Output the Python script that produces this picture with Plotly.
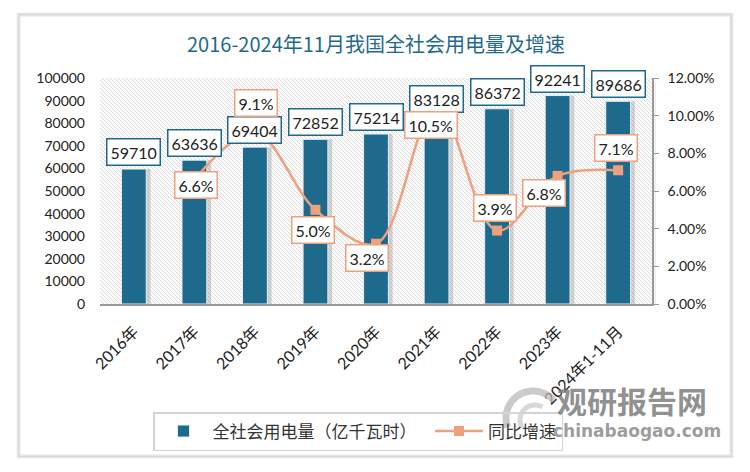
import base64
import math
import plotly.graph_objects as go

# ---- data ----
categories = ["2016年", "2017年", "2018年", "2019年", "2020年", "2021年", "2022年", "2023年", "2024年1-11月"]
consumption = [59710, 63636, 69404, 72852, 75214, 83128, 86372, 92241, 89686]
growth = [None, 0.066, 0.091, 0.050, 0.032, 0.105, 0.039, 0.068, 0.071]
growth_text = ["", "6.6%", "9.1%", "5.0%", "3.2%", "10.5%", "3.9%", "6.8%", "7.1%"]
left_ticks = [0, 10000, 20000, 30000, 40000, 50000, 60000, 70000, 80000, 90000, 100000]
left_tick_text = ["0", "10000", "20000", "30000", "40000", "50000", "60000", "70000", "80000", "90000", "100000"]
right_ticks = [0, 0.02, 0.04, 0.06, 0.08, 0.10, 0.12]

# label offsets (pixels) for growth labels
growth_offsets = [(0, 0), (2, -5), (1, 30), (-2, -20), (-9, -14), (-6, -19), (-2, 23), (-14, -17), (-2, 22)]

BLUE = "#1E6A8D"
SALMON = "#EFA07C"
FONT = "Lato, 'Noto Sans CJK SC', sans-serif"

W, H = 750, 472
ML, MR, MT, MB = 100, 98, 78, 168
PW, PH = W - ML - MR, H - MT - MB


def px_x(px):
    return (px - ML) / PW


def px_y(py):
    return (H - MB - py) / PH


# hatched plot-area background as inline svg
lines = []
step = 4
for k in range(-PH, PW + PH, step):
    lines.append(f'<line x1="{k}" y1="0" x2="{k + PH}" y2="{PH}" stroke="#DADADA" stroke-width="1"/>')
svg = (f'<svg xmlns="http://www.w3.org/2000/svg" width="{PW}" height="{PH}" viewBox="0 0 {PW} {PH}">'
       f'<rect width="{PW}" height="{PH}" fill="#FCFCFC"/>' + "".join(lines) + '</svg>')
svg_uri = "data:image/svg+xml;base64," + base64.b64encode(svg.encode()).decode()

fig = go.Figure()

# bar shadows
fig.add_trace(go.Bar(
    x=categories, y=consumption, width=0.41, offset=-0.205 + 0.07,
    marker=dict(color="rgba(120,120,120,0.30)", line=dict(width=0)),
    showlegend=False, hoverinfo="skip", yaxis="y"))

fig.add_trace(go.Bar(
    x=categories, y=consumption, width=0.41, offset=-0.205,
    name="全社会用电量（亿千瓦时）\u3000",
    marker=dict(color=BLUE, line=dict(color="#E8EEF2", width=1)),
    yaxis="y"))

fig.add_trace(go.Scatter(
    x=categories, y=growth, name="同比增速", yaxis="y2",
    mode="lines+markers",
    line=dict(color=SALMON, width=2.5, shape="spline", smoothing=1.0),
    marker=dict(symbol="square", size=10, color=SALMON),
    connectgaps=False))

annotations = []
for c, v in zip(categories, consumption):
    annotations.append(dict(
        x=c, y=v, xref="x", yref="y", text=str(v), showarrow=False,
        yshift=17, yanchor="middle",
        font=dict(size=16, color="#222222", family=FONT),
        bgcolor="white", bordercolor=BLUE, borderwidth=1.5, borderpad=3))

for c, g, t, (dx, dy) in zip(categories, growth, growth_text, growth_offsets):
    if g is None:
        continue
    annotations.append(dict(
        x=c, y=g, xref="x", yref="y2", text=t, showarrow=False,
        xshift=dx, yshift=dy, yanchor="middle",
        font=dict(size=16, color="#222222", family=FONT),
        bgcolor="white", bordercolor=SALMON, borderwidth=1.5, borderpad=3))

# watermark
annotations.append(dict(
    x=px_x(632), y=px_y(400), xref="paper", yref="paper", text="<b>观研报告网</b>",
    xanchor="center", yanchor="middle",
    showarrow=False, font=dict(size=30, color="rgba(125,125,125,0.85)", family="'Noto Sans CJK SC', sans-serif")))
annotations.append(dict(
    x=px_x(637), y=px_y(431), xref="paper", yref="paper", text="<b>chinabaogao.com</b>",
    xanchor="center", yanchor="middle",
    showarrow=False, font=dict(size=17, color="rgba(140,140,140,0.85)", family="'DejaVu Sans', sans-serif")))

shapes = []
# card shadow
for i, a in enumerate([0.10, 0.06, 0.03]):
    d = i + 1
    shapes.append(dict(type="rect", xref="paper", yref="paper",
                       x0=px_x(20 - d), x1=px_x(730 + d), y0=px_y(455 + d), y1=px_y(16 - d),
                       line=dict(color=f"rgba(0,0,0,{a})", width=2), fillcolor="rgba(0,0,0,0)", layer="below"))
shapes.append(dict(type="rect", xref="paper", yref="paper",
                   x0=px_x(20), x1=px_x(730), y0=px_y(455), y1=px_y(16),
                   line=dict(color="#E4E4E4", width=1), fillcolor="rgba(0,0,0,0)", layer="below"))
# plot area drop shadow (right edge)
shapes.append(dict(type="rect", xref="paper", yref="paper",
                   x0=1.0, x1=px_x(ML + PW + 4), y0=0, y1=px_y(MT + 3),
                   line=dict(width=0), fillcolor="rgba(0,0,0,0.06)", layer="below"))


# watermark logo (swirl arcs)
def arc_path(cx, cy, r, a0, a1, n=24):
    pts = []
    for i in range(n + 1):
        a = math.radians(a0 + (a1 - a0) * i / n)
        pts.append((px_x(cx + r * math.cos(a)), px_y(cy - r * math.sin(a))))
    return "M " + " L ".join(f"{x:.4f},{y:.4f}" for x, y in pts)


shapes.append(dict(type="path", xref="paper", yref="paper", path=arc_path(533, 418, 27, 200, 40),
                   line=dict(color="rgba(185,185,185,0.75)", width=7), layer="above"))
shapes.append(dict(type="path", xref="paper", yref="paper", path=arc_path(535, 420, 15, 210, 60),
                   line=dict(color="rgba(200,200,200,0.7)", width=5), layer="above"))

fig.update_layout(
    width=W, height=H,
    margin=dict(l=ML, r=MR, t=MT, b=MB, autoexpand=False),
    paper_bgcolor="white", plot_bgcolor="rgba(0,0,0,0)",
    barmode="overlay",
    title=dict(text="2016-2024年11月我国全社会用电量及增速", x=0.5, xref="paper",
               y=1 - 45 / H, yref="container", yanchor="middle", xanchor="center",
               font=dict(size=20, color="#1F6A8C", family="'Noto Sans CJK SC', sans-serif")),
    font=dict(family=FONT, color="#222222"),
    xaxis=dict(type="category", tickangle=-45, tickfont=dict(size=16, color="#222222"),
               showline=True, linecolor="#9A9A9A", linewidth=2, showgrid=False,
               ticks="", zeroline=False, automargin=False, ticklabelstandoff=10),
    yaxis=dict(range=[0, 100000], tickvals=left_ticks, ticktext=left_tick_text, showgrid=False, zeroline=False,
               showline=False, tickfont=dict(size=14, color="#222222"), ticklabelstandoff=14,
               automargin=False),
    yaxis2=dict(range=[0, 0.12], tickvals=right_ticks, tickformat=".2%", overlaying="y", side="right",
                showgrid=False, zeroline=False, showline=True, linecolor="#9A9A9A", linewidth=1.5,
                ticks="outside", ticklen=5, tickcolor="#9A9A9A",
                tickfont=dict(size=14, color="#222222"), ticklabelstandoff=6, automargin=False),
    legend=dict(orientation="h", x=px_x(153), y=px_y(412), xanchor="left", yanchor="top",
                bordercolor="#D4D4D4", borderwidth=1.5, bgcolor="rgba(255,255,255,0)",
                font=dict(size=17, color="#333333", family="'Noto Sans CJK SC', sans-serif"),
                itemwidth=48, traceorder="normal"),
    images=[dict(source=svg_uri, xref="paper", yref="paper", x=0, y=1, sizex=1, sizey=1,
                 sizing="stretch", layer="below", xanchor="left", yanchor="top")],
    annotations=annotations,
    shapes=shapes,
    showlegend=True,
)

fig.write_html("out.html", config={"displayModeBar": False},
               post_script="document.body.style.margin='0';")
